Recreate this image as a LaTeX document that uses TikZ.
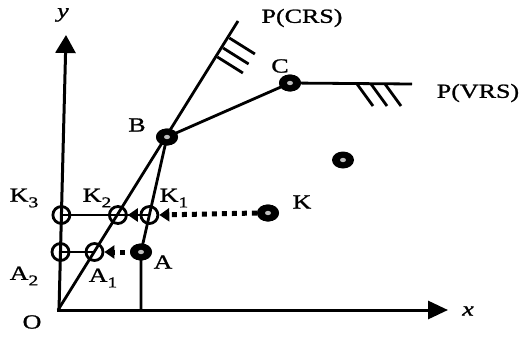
\documentclass[tikz,border=0pt]{standalone}
\usepackage{fontspec}
\setmainfont{Liberation Serif}[FakeStretch=1.3,FakeBold=1.2]
\usetikzlibrary{arrows.meta,shapes.geometric}
\newcommand\subix[1]{\raisebox{-0.28em}{\fontsize{15}{15}\selectfont #1}}
\tikzset{
  lbl/.style={font=\fontsize{20}{20}\selectfont, inner sep=0pt},
  axis/.style={line width=3pt},
  ln/.style={line width=2.8pt},
  fpt/.style={ellipse, fill=black, minimum width=22pt, minimum height=17pt, inner sep=0pt,
    path picture={\fill[black!25] (path picture bounding box.center) ellipse (3pt and 2.2pt);}},
  opt/.style={circle, draw=black, line width=2.8pt, minimum size=17pt, inner sep=0pt},
  dotln/.style={line width=5pt, dash pattern=on 5pt off 5pt},
  tri/.style={-{Triangle[length=10pt,width=13pt]}}
}
\begin{document}
\begin{tikzpicture}[x=1pt,y=-1pt]
\useasboundingbox (0,0) rectangle (529,337);
% axes
\coordinate (Oy) at (59,310);
\coordinate (Ytip) at (66,35);
\coordinate (Ox) at (57,310);
\coordinate (Xtip) at (448,310);
\draw[axis,-{Triangle[length=18pt,width=20pt]}] (Oy) -- (Ytip);
\draw[axis,-{Triangle[length=20pt,width=18pt]}] (Ox) -- (Xtip);
% frontier points
\coordinate (O) at (58,310);
\coordinate (CRSend) at (238,21);
\coordinate (VRSend) at (412,84);
\coordinate (Afoot) at (141,310);
\node[fpt] (B) at (167,137) {};
\node[fpt] (C) at (290,83) {};
\node[fpt] (A) at (141,252) {};
\node[fpt] (K) at (268,213) {};
\node[fpt] (D) at (343,160) {};
% frontier lines
\draw[ln] (O) -- (CRSend);
\draw[ln] (B.center) -- (C.center);
\draw[ln] (C.center) -- (VRSend);
\draw[ln] (B.center) -- (A.center) -- (Afoot);
% hatches
\foreach \p in {(229.4,38),(223.1,48),(217.4,57)}
  \draw[ln] \p -- ++(25.5,16);
\foreach \p in {(357,84),(371,84),(385,84)}
  \draw[ln] \p -- ++(16,22);
% projected points
\node[opt] (K1) at (149.4,215) {};
\node[opt] (K2) at (117.9,215) {};
\node[opt] (K3) at (61.4,215) {};
\node[opt] (A1) at (94.5,252) {};
\node[opt] (A2) at (60.5,252) {};
\draw[ln] (K3.center) -- (K1.center);
\draw[ln] (A2.center) -- (A1.center);
\draw[ln,tri] (K1.center) -- (K2.east);
\draw[dotln,tri] (K.west) -- (K1.east);
\draw[dotln,dash phase=5pt,tri] (A.west) -- (A1.east);
% redraw filled points on top
\node[fpt] at (B) {};
\node[fpt] at (C) {};
\node[fpt] at (A) {};
\node[fpt] at (K) {};
% labels
\node[lbl] (ly) at (63,15) {\textit{y}};
\node[lbl] (lx) at (468,311) {\textit{x}};
\node[lbl] (lO) at (32,322) {O};
\node[lbl] (lB) at (137,125) {B};
\node[lbl] (lC) at (280,66) {C};
\node[lbl] (lCRS) at (302,18) {P(CRS)};
\node[lbl] (lVRS) at (478,93) {P(VRS)};
\node[lbl] (lK) at (302,202) {K};
\node[lbl] (lK1) at (174,198) {K\subix{1}};
\node[lbl] (lK2) at (97,198) {K\subix{2}};
\node[lbl] (lK3) at (24,198) {K\subix{3}};
\node[lbl] (lA) at (163,262) {A};
\node[lbl] (lA1) at (103,278) {A\subix{1}};
\node[lbl] (lA2) at (24,276) {A\subix{2}};
\end{tikzpicture}
\end{document}
